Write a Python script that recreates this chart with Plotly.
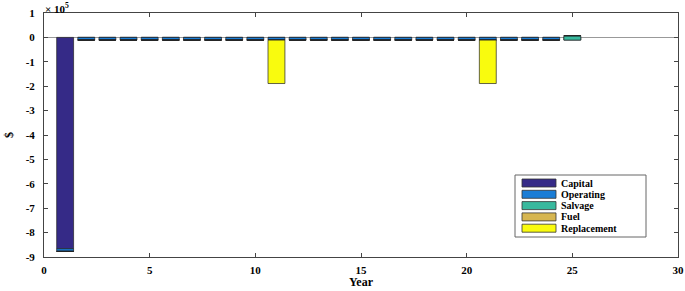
import numpy as np
import plotly.graph_objects as go

years = list(range(1, 26))
capital = [-866000] + [0] * 24
operating = [-11000] * 25
salvage = [0] * 24 + [18000]
fuel = [0] * 25
replacement = [0] * 10 + [-178000] + [0] * 9 + [-178000] + [0] * 4

series_names = ["Capital", "Operating", "Salvage", "Fuel", "Replacement"]
series_values = [capital, operating, salvage, fuel, replacement]
series_colors = ["#352a87", "#1a7dd6", "#38b99e", "#d6b651", "#f9fb0e"]

y_tick_vals = [v * 1e5 for v in range(-9, 2)]
y_tick_text = [str(v) for v in range(-9, 2)]
x_tick_vals = [0, 5, 10, 15, 20, 25, 30]

FONT = "Liberation Serif, Times New Roman, serif"
W, H = 685, 291
L, R, T, B = 44, 7, 13, 34
PW, PH = W - L - R, H - T - B


def px(x):
    return (x - L) / PW


def py(y):
    return 1 - (y - T) / PH


fig = go.Figure()
cum = np.zeros(len(years))
for name, vals, col in zip(series_names, series_values, series_colors):
    v = np.array(vals, dtype=float)
    fig.add_trace(go.Bar(
        x=years, y=v, base=cum.copy(), name=name, width=0.8, showlegend=False,
        marker=dict(color=col, line=dict(color="#222222", width=0.7)),
    ))
    cum = cum + v

fig.update_layout(
    width=W, height=H,
    margin=dict(l=L, r=R, t=T, b=B, autoexpand=False),
    barmode="overlay",
    plot_bgcolor="white", paper_bgcolor="white",
    font=dict(family=FONT, size=11, color="black", weight="bold"),
    showlegend=False,
)
fig.update_xaxes(
    range=[0, 30], tickvals=x_tick_vals, ticks="inside", ticklen=4,
    showline=True, linecolor="#444444", linewidth=1, mirror="ticks",
    showgrid=False, zeroline=False, automargin=False, ticklabelstandoff=3,
    tickfont=dict(family=FONT, size=11, color="black", weight="bold"),
)
fig.update_yaxes(
    range=[-9e5, 1e5], tickvals=y_tick_vals, ticktext=y_tick_text,
    ticks="inside", ticklen=4,
    showline=True, linecolor="#444444", linewidth=1, mirror="ticks",
    showgrid=False, zeroline=True, zerolinecolor="#999999", zerolinewidth=1,
    automargin=False, ticklabelstandoff=6,
    tickfont=dict(family=FONT, size=11, color="black", weight="bold"),
)

# axis titles
fig.add_annotation(xref="paper", yref="paper", x=0.5, y=py(282), yanchor="middle",
                   text="Year", showarrow=False,
                   font=dict(family=FONT, size=12, color="black", weight="bold"))
fig.add_annotation(xref="paper", yref="paper", x=px(9), y=py(135), xanchor="center",
                   yanchor="middle", text="$", showarrow=False, textangle=-90,
                   font=dict(family=FONT, size=12, color="black", weight="bold"))
fig.add_annotation(xref="paper", yref="paper", x=px(43), y=py(-1), xanchor="left",
                   yanchor="top", text="\u00d7 10<sup>5</sup>", showarrow=False,
                   font=dict(family=FONT, size=11, color="black", weight="bold"))

# legend box
shapes = [dict(type="rect", xref="paper", yref="paper",
               x0=px(515), x1=px(646), y0=py(175), y1=py(237),
               line=dict(color="#666666", width=1), fillcolor="white")]
for i, (name, col) in enumerate(zip(series_names, series_colors)):
    yc = 183 + i * 11.3
    shapes.append(dict(type="rect", xref="paper", yref="paper",
                       x0=px(522), x1=px(556), y0=py(yc - 4), y1=py(yc + 4),
                       line=dict(color="#333333", width=0.8), fillcolor=col))
    fig.add_annotation(xref="paper", yref="paper", x=px(559), y=py(yc),
                       xanchor="left", yanchor="middle", text=name, showarrow=False,
                       font=dict(family=FONT, size=10, color="black", weight="bold"))
fig.update_layout(shapes=shapes)

fig.write_html("out.html", config={"displayModeBar": False},
               post_script="document.body.style.margin='0';document.body.style.overflow='hidden';")
